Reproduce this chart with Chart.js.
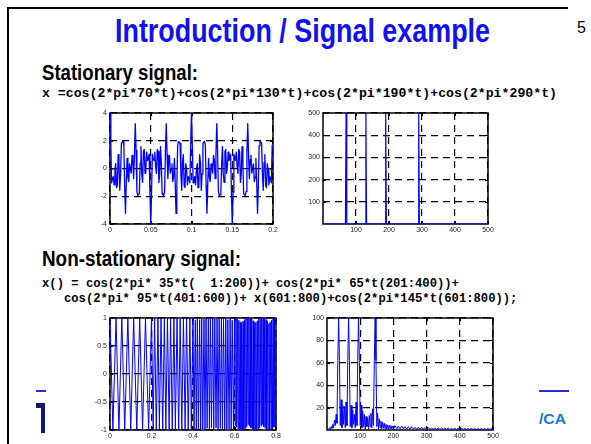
<!DOCTYPE html>
<html>
<head>
<meta charset="utf-8">
<script src="https://cdn.jsdelivr.net/npm/chart.js@4.4.1/dist/chart.umd.min.js"></script>
<style>
  html, body { margin: 0; padding: 0; background: #fff; }
  #slide { position: relative; width: 591px; height: 444px; overflow: hidden; background: #fff; }
  .txt { position: absolute; white-space: pre; line-height: 1; transform-origin: 0 0; }
  .head { font-family: 'Liberation Sans Narrow', 'Liberation Sans', Arial, sans-serif; font-weight: bold; }
  .code { font-family: 'Liberation Mono', 'Courier New', monospace; font-weight: bold; font-size: 13.2px; color: #000; }
  .bar { position: absolute; }
  canvas { position: absolute; }
</style>
</head>
<body>
<div id="slide">
  <div class="bar" style="left:7px;top:7px;width:2px;height:437px;background:#000"></div>
  <div class="bar" style="left:7px;top:7px;width:561px;height:2px;background:#000"></div>

  <div class="txt head fit" data-w="375" style="left:115px;top:13px;font-size:34px;color:#1010f0">Introduction / Signal example</div>
  <div class="txt" style="left:577px;top:20px;font-size:16px;font-family:'Liberation Sans',Arial,sans-serif">5</div>

  <div class="txt head fit" data-w="156" style="left:42px;top:61px;font-size:22.7px">Stationary signal:</div>
  <div class="txt code fit" data-w="515" style="left:42px;top:87px">x =cos(2*pi*70*t)+cos(2*pi*130*t)+cos(2*pi*190*t)+cos(2*pi*290*t)</div>

  <div class="txt head fit" data-w="199" style="left:42px;top:247px;font-size:22.7px">Non-stationary signal:</div>
  <div class="txt code" style="left:42px;top:278px;font-size:12.2px">x() = cos(2*pi* 35*t(  1:200))+ cos(2*pi* 65*t(201:400))+</div>
  <div class="txt code" style="left:42px;top:293px;font-size:12.2px">   cos(2*pi* 95*t(401:600))+ x(601:800)+cos(2*pi*145*t(601:800));</div>

  <div class="bar" style="left:36px;top:390px;width:10px;height:2px;background:#2b2bd0"></div>
  <div class="bar" style="left:36px;top:403px;width:9px;height:5px;background:#16166e"></div>
  <div class="bar" style="left:41px;top:403px;width:4px;height:30px;background:#16166e"></div>
  <div class="bar" style="left:539px;top:390px;width:30px;height:2px;background:#2b2bd0"></div>
  <div class="txt fit" data-w="27" style="left:539px;top:411px;font-size:15px;font-weight:bold;font-family:'Liberation Sans',Arial,sans-serif;color:#1976d2">/CA</div>

  <canvas id="p1"></canvas>
  <canvas id="p2"></canvas>
  <canvas id="p3"></canvas>
  <canvas id="p4"></canvas>
</div>

<script>
// stationary signal, one sample per ms from t = 0
const stationaryStep = 0.001;
const stationarySignal = [
  4, 1.71, -1.03, -0.74, -0.58, -1.18, -0.11, 0.35, -1.38, -1.22, 1.0, 0.43, -1.57, -0.38, 1.81, 1.90, 1.94, 1.65, -1.29, -3.23,
  -1.0, 0.73, -0.63, -0.94, 0.34, 0, -0.34, 0.94, 0.63, -0.73, 1.0, 3.23, 1.29, -1.65, -1.94, -1.90, -1.81, 0.38, 1.57, -0.43,
  -1.0, 1.22, 1.38, -0.35, 0.11, 1.18, 0.58, 0.74, 1.03, -1.71, -4,
  -1.71, 1.03, 0.74, 0.58, 1.18, 0.11, -0.35, 1.38, 1.22, -1.0, -0.43, 1.57, 0.38, -1.81, -1.90, -1.94, -1.65, 1.29, 3.23, 1.0,
  -0.73, 0.63, 0.94, -0.34, 0, 0.34, -0.94, -0.63, 0.73, -1.0, -3.23, -1.29, 1.65, 1.94, 1.90, 1.81, -0.38, -1.57, 0.43, 1.0,
  -1.22, -1.38, 0.35, -0.11, -1.18, -0.58, -0.74, -1.03, 1.71, 4,
  1.71, -1.03, -0.74, -0.58, -1.18, -0.11, 0.35, -1.38, -1.22, 1.0, 0.43, -1.57, -0.38, 1.81, 1.90, 1.94, 1.65, -1.29, -3.23,
  -1.0, 0.73, -0.63, -0.94, 0.34, 0, -0.34, 0.94, 0.63, -0.73, 1.0, 3.23, 1.29, -1.65, -1.94, -1.90, -1.81, 0.38, 1.57, -0.43,
  -1.0, 1.22, 1.38, -0.35, 0.11, 1.18, 0.58, 0.74, 1.03, -1.71, -4,
  -1.71, 1.03, 0.74, 0.58, 1.18, 0.11, -0.35, 1.38, 1.22, -1.0, -0.43, 1.57, 0.38, -1.81, -1.90, -1.94, -1.65, 1.29, 3.23, 1.0,
  -0.73, 0.63, 0.94, -0.34, 0, 0.34, -0.94, -0.63, 0.73, -1.0, -3.23, -1.29, 1.65, 1.94, 1.90, 1.81, -0.38, -1.57, 0.43, 1.0,
  -1.22, -1.38, 0.35, -0.11, -1.18, -0.58, -0.74, -1.03, 1.71
];

// its spectrum: four lines, running off the top
const stationarySpecFreq = [0, 68, 70, 72, 128, 130, 132, 188, 190, 192, 288, 290, 292, 500];
const stationarySpecMag  = [0, 0, 500, 0, 0, 500, 0, 0, 500, 0, 0, 500, 0, 0];

// non-stationary signal: peaks and troughs of each burst
const nonstatTime = [
  0, .014, .029, .043, .057, .071, .086, .100, .114, .129, .143, .157, .171, .186,
  .200, .208, .215, .223, .231, .238, .246, .254, .262, .269, .277, .285, .292, .300, .308, .315, .323, .331, .338, .346, .354, .362, .369, .377, .385, .392,
  .400, .405, .411, .416, .421, .426, .432, .437, .442, .447, .453, .458, .463, .468, .474, .479, .484, .489, .495, .500,
  .505, .511, .516, .521, .526, .532, .537, .542, .547, .553, .558, .563, .568, .574, .579, .584, .589, .595,
  .600, .603, .607, .610, .614, .617, .621, .624, .628, .631, .634, .638, .641, .645, .648, .652, .655, .659, .662, .666,
  .669, .672, .676, .679, .683, .686, .690, .693, .697, .700, .703, .707, .710, .714, .717, .721, .724, .728, .731, .734,
  .738, .741, .745, .748, .752, .755, .759, .762, .766, .769, .772, .776, .779, .783, .786, .790, .793, .797, .799
];
const nonstatSignal = [
  1, -1, 1, -1, 1, -1, 1, -1, 1, -1, 1, -1, 1, -1,
  1, -.99, .99, -1, 1, -.98, 1, -1, .98, -1, 1, -.99, .99, -1, .99, -.99, 1, -1, .98, -1, 1, -.98, 1, -1, .99, -.99,
  1, -.99, .96, -.99, 1, -.98, .97, -1, 1, -.98, .98, -1, 1, -.97, .98, -1, .99, -.96, .99, -1,
  .99, -.96, .99, -1, .98, -.97, 1, -1, .98, -.98, 1, -1, .97, -.98, 1, -.99, .96, -.99,
  1, -.92, 1, -.95, .98, -.98, .96, -.99, .93, -1, .90, -1, .94, -.99, .97, -.97, .99, -.94, 1, -.90,
  1, -.93, .99, -.96, .98, -.98, .95, -1, .92, -1, .92, -1, .95, -.98, .98, -.96, .99, -.93, 1, -.90,
  1, -.94, .99, -.97, .97, -.99, .94, -1, .90, -1, .93, -.99, .96, -.98, .98, -.95, 1, -.92, .61
];

// its spectrum: 2.5 Hz bins up to 200 Hz, then 5 Hz bins
const nonstatSpecStepLow = 2.5;
const nonstatSpecLow = [
  0, 1, 0.5, 2, 1, 3, 1.5, 5, 2, 9, 4, 14, 6, 62, 100, 62, 4, 27, 2, 22,
  5, 21, 2, 25, 4, 62, 100, 62, 3, 22, 2, 18, 5, 14, 2, 25, 4, 62, 100, 62,
  4, 22, 2, 17, 3, 14, 1, 12, 3, 11, 1, 13, 3, 15, 2, 19, 4, 62, 100, 62,
  3, 15, 1, 10, 2, 8, 1, 7, 1.5, 6, 1, 5, 1, 4.5, 1, 4, 1, 4, 1, 3.5, 1
];
const nonstatSpecStartHigh = 205;
const nonstatSpecStepHigh = 5;
const nonstatSpecHigh = [
  4, 1, 3.5, 1, 3.5, 1, 3, 0.8, 3, 0.8, 3, 0.8, 2.5, 0.6, 2.5, 0.6, 2.5, 0.6, 2.2, 0.5,
  2.2, 0.5, 2, 0.5, 2, 0.5, 2, 0.4, 1.8, 0.4, 1.8, 0.4, 1.8, 0.4, 1.6, 0.4, 1.6, 0.3, 1.6, 0.3,
  1.5, 0.3, 1.5, 0.3, 1.5, 0.3, 1.5, 0.3, 1.4, 0.3, 1.4, 0.3, 1.4, 0.3, 1.3, 0.3, 1.3, 0.3, 1.3, 0.3
];

// axis ticks
const sigXTicks = [0, 0.05, 0.1, 0.15, 0.2];
const sigYTicks = [-4, -2, 0, 2, 4];
const specXTicks = [100, 200, 300, 400, 500];
const specYTicks = [100, 200, 300, 400, 500];
const nsXTicks = [0, 0.2, 0.4, 0.6, 0.8];
const nsYTicks = [-1, -0.5, 0, 0.5, 1];
const nsSpecYTicks = [20, 40, 60, 80, 100];

// box round the plot area with inward ticks, drawn under the data
const matlabBox = {
  id: 'matlabBox',
  beforeDatasetsDraw(chart) {
    const { ctx, chartArea: a, scales: { x, y } } = chart;
    ctx.save();
    ctx.strokeStyle = '#000';
    ctx.lineWidth = 1;
    ctx.beginPath();
    x.ticks.forEach(t => {
      const px = Math.round(x.getPixelForValue(t.value)) + 0.5;
      ctx.moveTo(px, a.bottom); ctx.lineTo(px, a.bottom - 3);
      ctx.moveTo(px, a.top); ctx.lineTo(px, a.top + 3);
    });
    y.ticks.forEach(t => {
      const py = Math.round(y.getPixelForValue(t.value)) + 0.5;
      ctx.moveTo(a.left, py); ctx.lineTo(a.left + 3, py);
      ctx.moveTo(a.right, py); ctx.lineTo(a.right - 3, py);
    });
    ctx.stroke();
    ctx.lineWidth = 1.5;
    ctx.strokeRect(a.left, a.top, a.right - a.left, a.bottom - a.top);
    ctx.restore();
  }
};

function axis(range, ticks, pad, fit) {
  return {
    type: 'linear', min: range[0], max: range[1],
    afterFit: fit,
    afterBuildTicks: s => { s.ticks = ticks.map(v => ({ value: v })); },
    ticks: {
      autoSkip: false, maxRotation: 0, padding: pad, color: '#222',
      font: { family: 'Liberation Sans, Arial, sans-serif', size: 7 },
      callback: v => String(v)
    },
    grid: { color: '#000', lineWidth: 1.2, drawTicks: false },
    border: { display: false, dash: [7, 5] }
  };
}

function plot(id, box, points, xr, yr, xt, yt, width) {
  const padL = 34, padT = 8, padR = 12, padB = 16;
  const cv = document.getElementById(id);
  cv.width = box.r - box.l + padL + padR;
  cv.height = box.b - box.t + padT + padB;
  cv.style.left = (box.l - padL) + 'px';
  cv.style.top = (box.t - padT) + 'px';
  return new Chart(cv, {
    type: 'line',
    data: {
      datasets: [{
        data: points,
        borderColor: '#0000ff',
        borderWidth: width,
        borderJoinStyle: 'round',
        pointRadius: 0,
        tension: 0
      }]
    },
    options: {
      responsive: false,
      animation: false,
      layout: { padding: { left: 0, top: padT, right: padR, bottom: 0 } },
      plugins: { legend: { display: false }, tooltip: { enabled: false } },
      scales: {
        x: axis(xr, xt, 2, s => { s.height = padB; }),
        y: axis(yr, yt, 3, s => { s.width = padL; })
      }
    },
    plugins: [matlabBox]
  });
}

const sigPoints = stationarySignal.map((v, i) => ({ x: i * stationaryStep, y: v }));
const specPoints = stationarySpecFreq.map((f, i) => ({ x: f, y: stationarySpecMag[i] }));
const nsPoints = nonstatTime.map((t, i) => ({ x: t, y: nonstatSignal[i] }));
const nsSpecPoints = nonstatSpecLow.map((v, i) => ({ x: i * nonstatSpecStepLow, y: v }))
  .concat(nonstatSpecHigh.map((v, i) => ({ x: nonstatSpecStartHigh + i * nonstatSpecStepHigh, y: v })));

plot('p1', { l: 110, t: 113, r: 273, b: 224 }, sigPoints, [0, 0.2], [-4, 4], sigXTicks, sigYTicks, 1.3);
plot('p2', { l: 323, t: 113, r: 488, b: 224 }, specPoints, [0, 500], [0, 500], specXTicks, specYTicks, 1.2);
plot('p3', { l: 110, t: 318, r: 276, b: 430 }, nsPoints, [0, 0.8], [-1, 1], nsXTicks, nsYTicks, 1);
plot('p4', { l: 327, t: 318, r: 493, b: 430 }, nsSpecPoints, [0, 500], [0, 100], specXTicks, nsSpecYTicks, 1);

// squeeze the headings to the widths seen on the slide
document.querySelectorAll('.fit').forEach(el => {
  const s = el.dataset.w / el.getBoundingClientRect().width;
  el.style.transform = 'scaleX(' + s + ')';
});
</script>
</body>
</html>
